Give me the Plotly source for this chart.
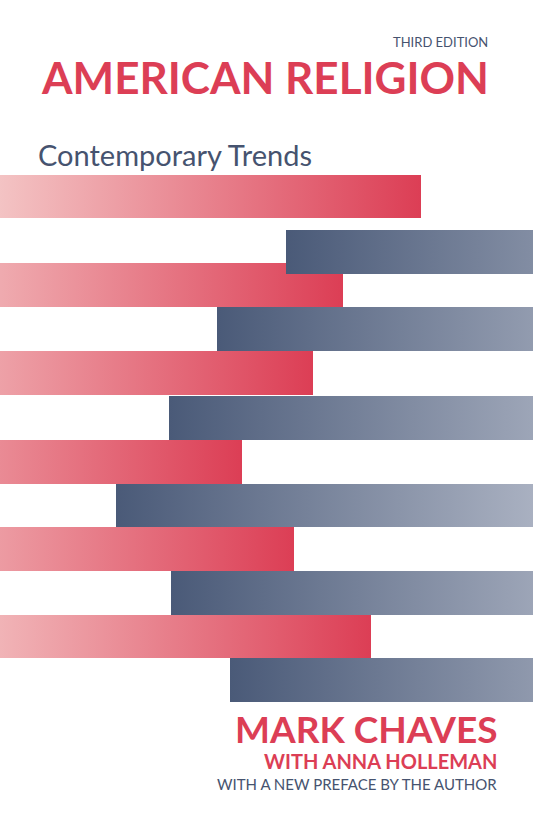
import plotly.graph_objects as go

W, H = 533, 824
# red bars: (top, bottom, right end); blue bars: (top, bottom, left start)
red_tops = [175, 263, 351, 440, 527, 615]
red_bottoms = [218, 307, 395, 484, 571, 658]
red_ends = [421, 343, 313, 242, 294, 371]
blue_tops = [230, 307, 396, 484, 571, 658]
blue_bottoms = [274, 351, 440, 527, 615, 702]
blue_starts = [286, 217, 169, 116, 171, 230]

RED = "#dc3e55"
NAVY = "#46536f"

fig = go.Figure()

def rect(x0, x1, y0, y1, c0, c1, g0, g1):
    fig.add_trace(go.Scatter(
        x=[x0, x1, x1, x0, x0], y=[y0, y0, y1, y1, y0],
        mode="lines", line=dict(width=0), fill="toself",
        fillgradient=dict(type="horizontal", start=g0, stop=g1,
                          colorscale=[[0, c0], [1, c1]]),
        hoverinfo="skip", showlegend=False))

for t, b, e in zip(red_tops, red_bottoms, red_ends):
    rect(0, e, t, b, "#f4c6c6", RED, e - 430, e)
for t, b, s in zip(blue_tops, blue_bottoms, blue_starts):
    rect(s, W, t, b, "#4a5a78", "#acb3c3", s, s + 430)

fig.update_xaxes(range=[0, W], visible=False, fixedrange=True)
fig.update_yaxes(range=[H, 0], visible=False, fixedrange=True)

ann = [
    dict(text="THIRD EDITION", x=490, y=42, xanchor="right", size=13, color=NAVY),
    dict(text="<b>AMERICAN RELIGION</b>", x=491, y=77, xanchor="right", size=44, color=RED),
    dict(text="Contemporary Trends", x=36, y=154, xanchor="left", size=29, color=NAVY),
    dict(text="<b>MARK CHAVES</b>", x=500, y=728, xanchor="right", size=37, color=RED),
    dict(text="<b>WITH ANNA HOLLEMAN</b>", x=499, y=761, xanchor="right", size=20, color=RED),
    dict(text="WITH A NEW PREFACE BY THE AUTHOR", x=499, y=784, xanchor="right", size=15, color=NAVY),
]
for a in ann:
    fig.add_annotation(text=a["text"], x=a["x"], y=a["y"], xref="x", yref="y",
                       xanchor=a["xanchor"], yanchor="middle", showarrow=False,
                       font=dict(size=a["size"], color=a["color"], family="Lato"))

fig.update_layout(width=W, height=H, margin=dict(l=0, r=0, t=0, b=0),
                  plot_bgcolor="white", paper_bgcolor="white")
fig.write_html("out.html", config={"displayModeBar": False},
               post_script="document.body.style.margin='0';document.body.style.overflow='hidden';")
